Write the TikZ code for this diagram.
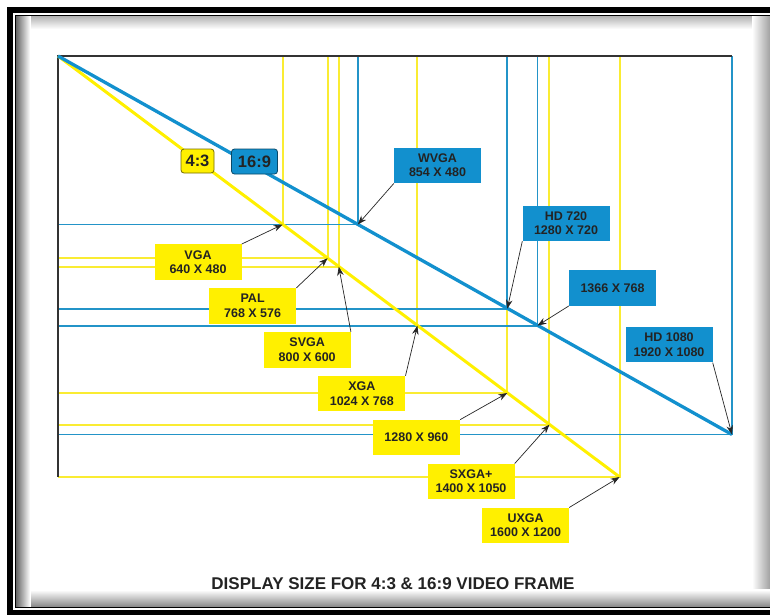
\documentclass[tikz,border=0pt]{standalone}
\usepackage{fontspec}
\setmainfont{Liberation Sans}
\usetikzlibrary{arrows.meta}
\definecolor{ylw}{RGB}{255,240,0}
\definecolor{ylwline}{RGB}{250,236,50}
\definecolor{blu}{RGB}{18,144,206}
\definecolor{bluline}{RGB}{35,148,200}
\definecolor{txt}{RGB}{35,35,35}
\begin{document}
\begin{tikzpicture}[x=1pt,y=-1pt,
  thinY/.style={draw=ylwline,line width=1.9pt},
  thinB/.style={draw=bluline,line width=1.9pt},
  diagY/.style={draw=ylw,line width=3pt},
  diagB/.style={draw=blu,line width=3.3pt},
  axisline/.style={draw=black!80,line width=1.6pt},
  lbl/.style={minimum width=87pt,minimum height=35.5pt,inner sep=0pt,align=center,
     text=txt,font=\fontsize{12.5}{14.3}\selectfont\bfseries},
  lblY/.style={lbl,fill=ylw},
  lblB/.style={lbl,fill=blu},
  arr/.style={draw=black!85,line width=0.7pt,-{Stealth[length=9pt,width=6.5pt]}}]
\useasboundingbox (0,0) rectangle (770,614);
% frame with inner shadow
\fill[white] (0,0) rectangle (770,614);
\foreach \i in {0,...,13} {
  \pgfmathsetmacro\g{30*(1-\i/13)}
  \draw[black!\g,line width=1.05pt] (16,16.5+\i) -- (770,16.5+\i);}
\foreach \i in {0,...,17} {
  \pgfmathsetmacro\g{35*(1-\i/17)}
  \draw[black!\g,line width=1.05pt] (769.5-\i,16) -- (769.5-\i,606.6);}
\foreach \i in {0,...,16} {
  \pgfmathsetmacro\g{45*(1-\i/16)}
  \draw[black!\g,line width=1.05pt] (16,606-\i) -- (770,606-\i);}
\foreach \i in {0,...,14} {
  \pgfmathsetmacro\g{60*(1-\i/14)}
  \draw[black!\g,line width=1.05pt] (16.5+\i,16) -- (16.5+\i,606.6);}
\draw[line width=6.5pt] (10.2,10.2) rectangle (790,613);
\draw[line width=1.2pt] (15.3,15.5) rectangle (785,607.3);
% coordinates
\coordinate (O) at (58,56);
\coordinate (vga) at (282.6,224.5);
\coordinate (pal) at (327.6,258.2);
\coordinate (svga) at (338.8,266.6);
\coordinate (xga) at (417.4,325.6);
\coordinate (q960) at (507.3,393);
\coordinate (sxga) at (549.4,424.6);
\coordinate (uxga) at (619.6,477);
\coordinate (wvga) at (357.8,224.5);
\coordinate (hd720) at (507.3,308.7);
\coordinate (w1366) at (537.5,325.6);
\coordinate (hd1080) at (732,434.5);
% yellow rectangles
\foreach \c in {vga,pal,svga,xga,q960,sxga,uxga}
  \draw[thinY] (O -| \c) -- (\c) -- (O |- \c);
% blue rectangles
\foreach \c in {wvga,hd720,w1366,hd1080}
  \draw[thinB] (O -| \c) -- (\c) -- (O |- \c);
% axes
\draw[axisline] (O -| hd1080) -- (O) -- (O |- uxga);
% diagonals
\draw[diagY] (O) -- (uxga);
\draw[diagB] (O) -- (hd1080);
% ratio tags
\node[draw=black!55!ylw,fill=ylw,rounded corners=3pt,line width=0.8pt,minimum width=33pt,minimum height=24pt,inner sep=0pt,
  text=txt,font=\fontsize{16.5}{18}\selectfont\bfseries] (r43) at (197.5,161) {4:3};
\node[draw=blu!50!black,fill=blu,rounded corners=3pt,line width=0.8pt,minimum width=46pt,minimum height=25pt,inner sep=0pt,
  text=txt,font=\fontsize{16.5}{18}\selectfont\bfseries] (r169) at (254.5,161.5) {16:9};
% blue labels
\node[lblB] (Lwvga) at (437.5,165.5) {WVGA\\854 X 480};
\node[lblB] (Lhd720) at (566,223.3) {HD 720\\1280 X 720};
\node[lblB] (L1366) at (612.5,288) {1366 X 768};
\node[lblB] (Lhd1080) at (669,344.7) {HD 1080\\1920 X 1080};
% yellow labels
\node[lblY] (Lvga) at (198,262) {VGA\\640 X 480};
\node[lblY] (Lpal) at (252.6,305.9) {PAL\\768 X 576};
\node[lblY] (Lsvga) at (307.2,349.8) {SVGA\\800 X 600};
\node[lblY] (Lxga) at (361.8,393.7) {XGA\\1024 X 768};
\node[lblY] (L960) at (416.4,437.6) {1280 X 960};
\node[lblY] (Lsxga) at (471,481.5) {SXGA+\\1400 X 1050};
\node[lblY] (Luxga) at (525.6,525.4) {UXGA\\1600 X 1200};
% arrows
\draw[arr] (Lwvga.south west) -- (wvga);
\draw[arr] (Lhd720.south west) -- (hd720);
\draw[arr] (L1366.south west) -- (w1366);
\draw[arr] (Lhd1080.south east) -- (hd1080);
\draw[arr] (Lvga.north east) -- (vga);
\draw[arr] (Lpal.north east) -- (pal);
\draw[arr] (Lsvga.north east) -- (svga);
\draw[arr] (Lxga.north east) -- (xga);
\draw[arr] (L960.north east) -- (q960);
\draw[arr] (Lsxga.north east) -- (sxga);
\draw[arr] (Luxga.north east) -- (uxga);
% title
\node[text=txt,font=\fontsize{17}{20}\selectfont\bfseries,inner sep=0pt] (title) at (393,584)
  {DISPLAY SIZE FOR 4:3 \& 16:9 VIDEO FRAME};
\end{tikzpicture}
\end{document}
